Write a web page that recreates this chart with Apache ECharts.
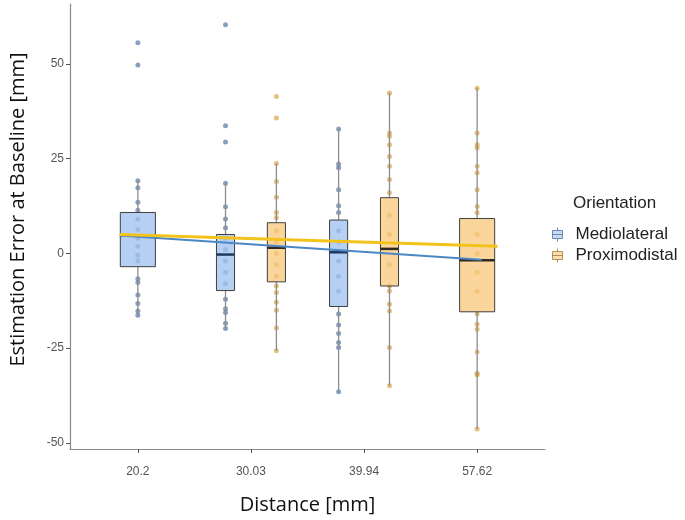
<!DOCTYPE html>
<html><head><meta charset="utf-8">
<script src="https://cdn.jsdelivr.net/npm/echarts@6/dist/echarts.min.js"></script>
<style>html,body{margin:0;padding:0;background:#fff}#c{width:685px;height:520px}</style>
</head><body><div id="c"></div><script>
// ---- data ----
const categories = ['20.2', '30.03', '39.94', '57.62'];
const yTicks = [-50, -25, 0, 25, 50];
// box stats: [category number (1-based), min, Q1, median, Q3, max]
const medioBoxes = [
  [1, -16.3, -3.5, 4.8, 10.8, 19.2],
  [2, -19.8, -9.8, -0.3, 5.0, 18.5],
  [3, -36.5, -14.0, 0.3, 8.8, 32.8]
];
const proxBoxes = [
  [2, -25.7, -7.5, 1.5, 8.1, 23.7],
  [3, -34.9, -8.6, 1.2, 14.7, 42.3],
  [4, -46.3, -15.4, -1.8, 9.2, 43.6]
];
// individual observations per category
const medioPts20 = [55.6, 49.7, 19.2, 17.3, 13.5, 11.4, 9, 6.3, 4, 1.9, -0.5, -2, -6.7, -7.7, -11, -13.2, -15.2, -16.3];
const medioPts30 = [60.3, 33.7, 29.4, 18.5, 12.3, 9.1, 6.8, 4, 1, -2, -5, -8, -12.1, -14.6, -15.6, -18.4, -19.8];
const medioPts40 = [32.8, 23.6, 22.6, 16.8, 12.6, 10.8, 6, 3, -2, -6, -10, -16, -18.9, -21.1, -23.5, -24.8, -36.5];
const proxPts30 = [41.4, 35.7, 23.7, 19, 14.8, 10.8, 9.4, 6, 3, 0, -3, -6, -8.6, -10.3, -12.9, -15, -19.7, -25.7];
const proxPts40 = [42.3, 31.8, 30.9, 28.7, 25.6, 23, 19.5, 16, 10, 5, -3, -8.6, -9.9, -13.4, -15.2, -24.8, -34.9];
const proxPts58 = [43.6, 31.8, 28.7, 27.8, 23, 21.3, 16.8, 12.4, 10.7, 5, 0, -5, -10, -16, -18.7, -20, -26, -31.6, -32.1, -46.3];
// linear trend end points [x (axis units), y]
const medioTrend = [[0.84, 4.7], [4.04, -1.7]];
const proxTrend = [[0.84, 5.0], [4.18, 1.9]];

// ---- layout helpers ----
const medioCats = medioBoxes.map(b => b[0]);
const proxCats = proxBoxes.map(b => b[0]);
function shared(cat) { return medioCats.includes(cat) && proxCats.includes(cat); }
function dodge(cat, side) { return shared(cat) ? side * 0.225 : 0; }
function boxW(cat) { return shared(cat) ? 0.16 : 0.31; }

function boxData(boxes, side) {
  return boxes.map(b => [b[0] + dodge(b[0], side), b[1], b[2], b[3], b[4], b[5], boxW(b[0])]);
}
function ptData(cat, vals, side) {
  return vals.map(v => [cat + dodge(cat, side), v]);
}

function makeRender(fill, medColor) {
  return function (params, api) {
    const x = api.value(0);
    const w = api.value(6);
    const pMin = api.coord([x, api.value(1)]);
    const pQ1 = api.coord([x, api.value(2)]);
    const pMed = api.coord([x, api.value(3)]);
    const pQ3 = api.coord([x, api.value(4)]);
    const pMax = api.coord([x, api.value(5)]);
    const half = api.size([w, 0])[0] / 2;
    const cx = pMed[0];
    return {
      type: 'group',
      children: [
        { type: 'line', shape: { x1: cx, y1: pMax[1], x2: cx, y2: pQ3[1] }, style: { stroke: '#8c8c8c', lineWidth: 1.3 } },
        { type: 'line', shape: { x1: cx, y1: pQ1[1], x2: cx, y2: pMin[1] }, style: { stroke: '#8c8c8c', lineWidth: 1.3 } },
        { type: 'rect', shape: { x: cx - half, y: pQ3[1], width: half * 2, height: pQ1[1] - pQ3[1] },
          style: { fill: fill, stroke: '#3f3f3f', lineWidth: 1 } },
        { type: 'line', shape: { x1: cx - half, y1: pMed[1], x2: cx + half, y2: pMed[1] }, style: { stroke: medColor, lineWidth: 2.5 } }
      ]
    };
  };
}

const blueFill = 'rgba(160,195,240,0.78)';
const orangeFill = 'rgba(250,198,118,0.72)';
const bluePt = 'rgba(58,98,150,0.75)';
const orangePt = 'rgba(214,150,40,0.75)';
const font = 'Liberation Sans, Arial, sans-serif';
const titleFont = 'Open Sans, Noto Sans, sans-serif';
const iconPath = 'path://M5,0 L5,3 M0,3 L10,3 L10,11 L0,11 Z M0,7 L10,7 M5,11 L5,14';

const chart = echarts.init(document.getElementById('c'), null, { renderer: 'canvas' });
chart.setOption({
  animation: false,
  backgroundColor: '#ffffff',
  grid: { left: 70, right: 140, top: 4, bottom: 68 },
  title: {
    text: 'Orientation', left: 568, top: 190,
    textStyle: { fontSize: 17, fontWeight: 'normal', color: '#222', fontFamily: font }
  },
  legend: {
    orient: 'vertical', left: 547, top: 221, itemWidth: 10, itemHeight: 15, itemGap: 4,
    textStyle: { fontSize: 17, color: '#222', fontFamily: font, padding: [0, 0, 0, 8] },
    data: [
      { name: 'Mediolateral', icon: iconPath, itemStyle: { color: '#b8d2f4', borderColor: '#4a6f9f', borderWidth: 1 } },
      { name: 'Proximodistal', icon: iconPath, itemStyle: { color: '#fbd69a', borderColor: '#a07a3a', borderWidth: 1 } }
    ]
  },
  xAxis: {
    type: 'value', min: 0.4, max: 4.6,
    name: 'Distance [mm]', nameLocation: 'middle', nameGap: 46,
    nameTextStyle: { fontSize: 20, color: '#111', fontFamily: titleFont },
    axisLine: { show: true, onZero: false, lineStyle: { color: '#8a8a8a', width: 1.2 } },
    axisTick: { show: true, length: 4, customValues: [1, 2, 3, 4], lineStyle: { color: '#555' } },
    axisLabel: { customValues: [1, 2, 3, 4], margin: 17, fontSize: 12, color: '#555', fontFamily: font,
      formatter: v => categories[Math.round(v) - 1] },
    splitLine: { show: false }
  },
  yAxis: {
    type: 'value', min: -51.6, max: 65.8,
    name: 'Estimation Error at Baseline [mm]', nameLocation: 'middle', nameGap: 42,
    nameTextStyle: { fontSize: 20, color: '#111', fontFamily: titleFont, padding: [0, 0, 0, 34] },
    axisLine: { show: true, onZero: false, lineStyle: { color: '#8a8a8a', width: 1.2 } },
    axisTick: { show: true, length: 4, customValues: yTicks, lineStyle: { color: '#555' } },
    axisLabel: { customValues: yTicks, margin: 6, fontSize: 12, color: '#555', fontFamily: font },
    splitLine: { show: false }
  },
  series: [
    { name: 'Mediolateral', type: 'scatter', symbolSize: 5, z: 2, silent: true, itemStyle: { color: bluePt },
      data: [].concat(ptData(1, medioPts20, -1), ptData(2, medioPts30, -1), ptData(3, medioPts40, -1)) },
    { name: 'Proximodistal', type: 'scatter', symbolSize: 5, z: 2, silent: true, itemStyle: { color: orangePt },
      data: [].concat(ptData(2, proxPts30, 1), ptData(3, proxPts40, 1), ptData(4, proxPts58, 1)) },
    { name: 'Mediolateral', type: 'custom', z: 3, silent: true, itemStyle: { color: '#b8d2f4' },
      renderItem: makeRender(blueFill, '#1f3a5f'), encode: { x: 0, y: [1, 2, 3, 4, 5] },
      data: boxData(medioBoxes, -1) },
    { name: 'Proximodistal', type: 'custom', z: 3, silent: true, itemStyle: { color: '#fbd69a' },
      renderItem: makeRender(orangeFill, '#2e2a20'), encode: { x: 0, y: [1, 2, 3, 4, 5] },
      data: boxData(proxBoxes, 1) },
    { name: 'Mediolateral', type: 'line', z: 4, silent: true, showSymbol: false, data: medioTrend,
      lineStyle: { color: '#4a87c4', width: 2 } },
    { name: 'Proximodistal', type: 'line', z: 5, silent: true, showSymbol: false, data: proxTrend,
      lineStyle: { color: '#f3c31c', width: 3 } }
  ]
});
</script></body></html>
